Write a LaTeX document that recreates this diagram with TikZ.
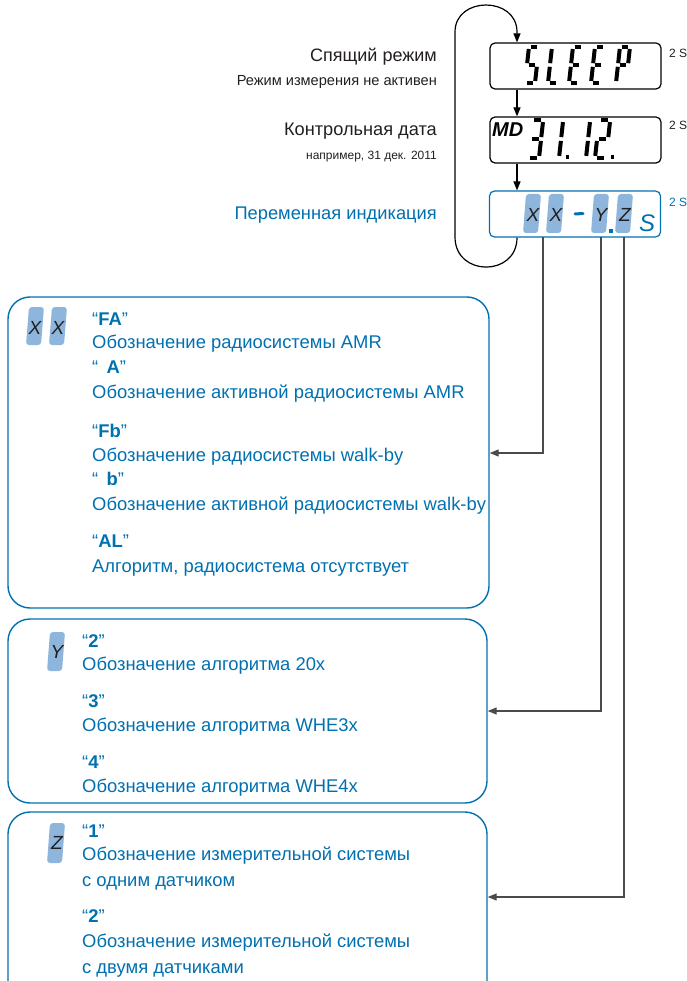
\documentclass[tikz,border=0pt]{standalone}
\usepackage{fontspec}
\setmainfont{Liberation Sans}
\usetikzlibrary{arrows.meta}
\definecolor{tblue}{RGB}{0,112,176}
\definecolor{hlc}{RGB}{142,182,220}
\definecolor{txt}{RGB}{35,31,32}
\definecolor{conncol}{RGB}{75,75,75}
\newcommand\fsz[1]{\fontsize{#1}{#1}\selectfont}
\newcommand\hlbox[3]{\fill[hlc,rounded corners=3] (#1,#3) -- (#1+15,#3) -- (#1+18,#2) -- (#1+3,#2) -- cycle;}
\newcommand\sevseg[5]{%
\begin{scope}[shift={(#1,#2)},xslant=0.11,yscale=#3]
\foreach \s in {#5}{%
 \if a\s \draw[segline] (2,-36) -- (#4-2,-36);\fi
 \if b\s \draw[segline] (#4,-34) -- (#4,-19.8);\fi
 \if c\s \draw[segline] (#4,-16.2) -- (#4,-2);\fi
 \if d\s \draw[segline] (2,0) -- (#4-2,0);\fi
 \if e\s \draw[segline] (0,-16.2) -- (0,-2);\fi
 \if f\s \draw[segline] (0,-34) -- (0,-19.8);\fi
 \if g\s \draw[segline] (2,-18) -- (#4-2,-18);\fi
}
\end{scope}}
\begin{document}
\begin{tikzpicture}[x=1pt,y=-1pt,
  segline/.style={line width=4pt,line cap=butt,black},
  lcdbox/.style={draw=black,line width=1.2pt,rounded corners=5pt,minimum width=171pt,minimum height=46pt,inner sep=0pt},
  bluebox/.style={draw=tblue,line width=1.4pt,rounded corners=22pt,inner sep=0pt},
  arr/.style={draw=black,line width=1.2pt,-{Triangle[length=9pt,width=7pt]}},
  connline/.style={draw=conncol,line width=1.2pt,-{Triangle[length=9pt,width=7pt]}},
  lbl/.style={anchor=base east,inner sep=0pt,text=txt},
  btxt/.style={anchor=base west,inner sep=0pt,text=tblue,font=\fsz{18.4}},
  dig/.style={inner sep=0pt,font=\fsz{19}\itshape,text=txt},
  side/.style={anchor=base west,inner sep=0pt,font=\fsz{12}}]
\useasboundingbox (0,0) rectangle (686,981);
\clip (0,0) rectangle (686,981);

% LCD boxes
\node[lcdbox] (lcd1) at (575.5,66) {};
\node[lcdbox] (lcd2) at (575.5,140) {};
\node[lcdbox,draw=tblue] (lcd3) at (575,214) {};

% SLEEP
\sevseg{525}{83}{1}{10}{a,f,g,c,d}
\sevseg{548}{83}{1}{10}{f,e,d}
\sevseg{569}{83}{1}{10}{a,f,g,e,d}
\sevseg{591}{83}{1}{10}{a,f,g,e,d}
\sevseg{616}{83}{1}{10}{a,b,f,g,e}

% MD 31.12.
\node[anchor=base west,inner sep=0pt,font=\fsz{20}\bfseries\itshape] (md) at (492,137) {MD};
\sevseg{528}{158}{1.055}{11}{a,b,g,c,d}
\sevseg{548}{158}{1.055}{11}{b,c}
\sevseg{575}{158}{1.055}{11}{b,c}
\sevseg{595}{158}{1.055}{11}{a,b,g,e,d}
\fill (565.5,155.5) rectangle (569,159);
\fill (610.5,155.5) rectangle (614,159);

% variable display
\hlbox{523}{194}{233}
\hlbox{546}{194}{233}
\hlbox{591}{194}{233}
\hlbox{615}{194}{233}
\node[dig] (dx1) at (533,215) {X};
\node[dig] (dx2) at (556,215) {X};
\node[dig] (dy) at (601,215) {Y};
\node[dig] (dz) at (625,215) {Z};
\draw[tblue,line width=3pt,line cap=round] (575,214) -- (583,213.5);
\fill[tblue] (609,229) rectangle (612.5,233);
\node[anchor=base west,inner sep=0pt,font=\fsz{24}\itshape,text=tblue] (sS) at (639,232) {S};

% 2 S labels
\node[side,text=txt] (t1s) at (669,58) {2 S};
\node[side,text=txt] (t2s) at (669,130) {2 S};
\node[side,text=tblue] (t3s) at (669,207) {2 S};

% left labels
\node[lbl,font=\fsz{18}] (l1) at (437,61.5) {Спящий режим};
\node[lbl,font=\fsz{14.6}] (l2) at (437,86) {Режим измерения не активен};
\node[lbl,font=\fsz{18.2}] (l3) at (437,135.5) {Контрольная дата};
\node[lbl,font=\fsz{12}] (l4) at (437,160) {например, 31 дек. 2011};
\node[lbl,font=\fsz{18.3},text=tblue] (l5) at (437,219.5) {Переменная индикация};

% arrows between displays and loop
\draw[arr] (lcd1.south -| 517,0) -- (lcd2.north -| 517,0);
\draw[arr] (lcd2.south -| 517,0) -- (lcd3.north -| 517,0);
\draw[arr] (lcd3.south -| 517,0) .. controls (517,277) and (455,277) .. (455,237) -- (455,32) .. controls (455,-4) and (517,-4) .. (517,32) -- (lcd1.north -| 517,0);

% blue boxes
\node[bluebox,minimum width=481pt,minimum height=311pt] (xxbox) at (248.5,452.5) {};
\node[bluebox,minimum width=479pt,minimum height=184pt] (ybox) at (247.5,711) {};
\node[bluebox,minimum width=479pt,minimum height=200pt] (zbox) at (247.5,912) {};

% connectors
\coordinate (c1) at (543,237);
\coordinate (c2) at (601,237);
\coordinate (c3) at (624,237);
\draw[connline] (c1) |- (xxbox.east |- 0,453);
\draw[connline] (c2) |- (ybox.east |- 0,711);
\draw[connline] (c3) |- (zbox.east |- 0,897);

% XX box
\hlbox{26}{307}{345}
\hlbox{49}{307}{345}
\node[dig] (bx1) at (35,328) {X};
\node[dig] (bx2) at (58,328) {X};
\node[btxt] (q1) at (92,325) {“\textbf{FA}”};
\node[btxt] (q1a) at (92,348.5) {Обозначение радиосистемы AMR};
\node[btxt] (q2) at (92,373) {“\hspace{0.45em}\textbf{A}”};
\node[btxt] (q2a) at (92,398.5) {Обозначение активной радиосистемы AMR};
\node[btxt] (q3) at (92,437) {“\textbf{Fb}”};
\node[btxt] (q3a) at (92,461.5) {Обозначение радиосистемы walk-by};
\node[btxt] (q4) at (92,485) {“\hspace{0.45em}\textbf{b}”};
\node[btxt] (q4a) at (92,510) {Обозначение активной радиосистемы walk-by};
\node[btxt] (q5) at (92,547) {“\textbf{AL}”};
\node[btxt] (q5a) at (92,572) {Алгоритм, радиосистема отсутствует};

% Y box
\hlbox{47}{632}{671}
\node[dig] (by) at (57,652) {Y};
\node[btxt] (y1) at (82,647) {“\textbf{2}”};
\node[btxt] (y1a) at (82,670) {Обозначение алгоритма 20x};
\node[btxt] (y2) at (82,707) {“\textbf{3}”};
\node[btxt] (y2a) at (82,731) {Обозначение алгоритма WHE3x};
\node[btxt] (y3) at (82,768) {“\textbf{4}”};
\node[btxt] (y3a) at (82,792) {Обозначение алгоритма WHE4x};

% Z box
\hlbox{47}{823}{863}
\node[dig] (bz) at (57,843) {Z};
\node[btxt] (z1) at (82,837) {“\textbf{1}”};
\node[btxt] (z1a) at (82,860.5) {Обозначение измерительной системы};
\node[btxt] (z1b) at (82,886) {с одним датчиком};
\node[btxt] (z2) at (82,922) {“\textbf{2}”};
\node[btxt] (z2a) at (82,947.5) {Обозначение измерительной системы};
\node[btxt] (z2b) at (82,973) {с двумя датчиками};
\end{tikzpicture}
\end{document}
